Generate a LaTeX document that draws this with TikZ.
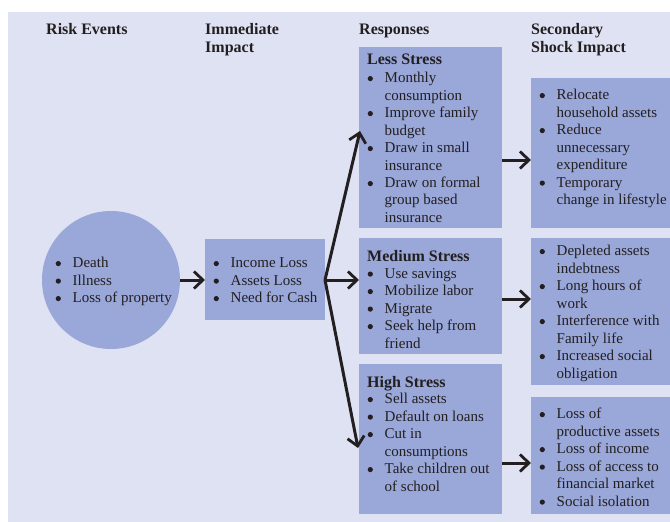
\documentclass[tikz,border=0pt]{standalone}
\usepackage{fontspec}
\setmainfont{Liberation Serif}
\usetikzlibrary{arrows.meta}
\definecolor{panel}{HTML}{DFE2F3}
\definecolor{boxfill}{HTML}{99A7D9}
\definecolor{ink}{HTML}{231F20}
% round bullet mark, centred on the x-height
\newcommand\dotb{\tikz[baseline=0pt]\fill[ink] (2.6pt,3.9pt) circle (2.6pt);}
\newcommand\bl{\makebox[17pt][l]{\dotb}}
\newcommand\cl{\hspace*{17pt}}
\newcommand\lines[1]{\begin{tabular}[t]{@{}l@{}}#1\end{tabular}}
\tikzset{
  panelbox/.style={fill=boxfill, draw=none, anchor=north west, inner sep=0pt},
  txt/.style={anchor=base west, inner sep=0pt, text=ink, font=\fontsize{15}{17.5}\selectfont},
  head/.style={txt, font=\fontsize{16}{18}\selectfont\bfseries},
  arr/.style={draw=ink, line width=3pt, -{Straight Barb[length=9pt,width=17pt,line width=2.8pt]}}
}
\begin{document}
\begin{tikzpicture}[x=1pt,y=-1pt]
  \useasboundingbox (0,0) rectangle (670,522);
  \fill[panel] (8,12) rectangle (670,522);

  % column headings
  \node[head] (hRisk) at (46,34.5) {Risk Events};
  \node[head] (hImm)  at (205,34.5) {\lines{Immediate\\Impact}};
  \node[head] (hResp) at (359,34.5) {Responses};
  \node[head] (hSec)  at (531,34.5) {\lines{Secondary\\Shock Impact}};

  % shapes
  \node[circle, fill=boxfill, inner sep=0pt, minimum size=138pt] (circ) at (111,280) {};
  \node[panelbox, minimum width=120pt, minimum height=81pt]  (imm)  at (205,239) {};
  \node[panelbox, minimum width=143pt, minimum height=181pt] (less) at (359,47) {};
  \node[panelbox, minimum width=143pt, minimum height=116pt] (med)  at (359,238) {};
  \node[panelbox, minimum width=143pt, minimum height=150pt] (high) at (359,364) {};
  \node[panelbox, minimum width=139pt, minimum height=150pt] (sec1) at (531,78) {};
  \node[panelbox, minimum width=139pt, minimum height=147pt] (sec2) at (531,238) {};
  \node[panelbox, minimum width=139pt, minimum height=117pt] (sec3) at (531,397) {};

  % texts
  \node[txt] (tCirc) at (55.5,267.5) {\lines{\bl Death\\ \bl Illness\\ \bl Loss of property}};
  \node[txt] (tImm) at (213.5,267.5) {\lines{\bl Income Loss\\ \bl Assets Loss\\ \bl Need for Cash}};

  \node[head] (tLessH) at (367,64) {Less Stress};
  \node[txt] (tLess) at (367.5,82.5) {\lines{\bl Monthly\\ \cl consumption\\ \bl Improve family\\ \cl budget\\
    \bl Draw in small\\ \cl insurance\\ \bl Draw on formal\\ \cl group based\\ \cl insurance}};

  \node[head] (tMedH) at (367,261) {Medium Stress};
  \node[txt] (tMed) at (367.5,278) {\lines{\bl Use savings\\ \bl Mobilize labor\\ \bl Migrate\\
    \bl Seek help from\\ \cl friend}};

  \node[head] (tHighH) at (367,387) {High Stress};
  \node[txt] (tHigh) at (367.5,403.5) {\lines{\bl Sell assets\\ \bl Default on loans\\ \bl Cut in\\
    \cl consumptions\\ \bl Take children out\\ \cl of school}};

  \node[txt] (tSec1) at (539.5,99.5) {\lines{\bl Relocate\\ \cl household assets\\ \bl Reduce\\
    \cl unnecessary\\ \cl expenditure\\ \bl Temporary\\ \cl change in lifestyle}};
  \node[txt] (tSec2) at (539.5,255.5) {\lines{\bl Depleted assets\\ \cl indebtness\\ \bl Long hours of\\
    \cl work\\ \bl Interference with\\ \cl Family life\\ \bl Increased social\\ \cl obligation}};
  \node[txt] (tSec3) at (539.5,418.5) {\lines{\bl Loss of\\ \cl productive assets\\ \bl Loss of income\\
    \bl Loss of access to\\ \cl financial market\\ \bl Social isolation}};

  % connectors
  \coordinate (fan) at (325,280);
  \coordinate (tipLess) at (360,131);
  \coordinate (tipHigh) at (358,448);
  \draw[arr] (circ.east) -- (imm.west |- circ.east);
  \draw[arr] (fan) -- (tipLess);
  \draw[arr] (fan) -- (med.west |- fan);
  \draw[arr] (fan) -- (tipHigh);

  \coordinate (s1) at (502,160);
  \coordinate (s2) at (502,299);
  \coordinate (s3) at (502,463);
  \draw[arr] (s1) -- (sec1.west |- s1);
  \draw[arr] (s2) -- (sec2.west |- s2);
  \draw[arr] (s3) -- (sec3.west |- s3);
\end{tikzpicture}
\end{document}
